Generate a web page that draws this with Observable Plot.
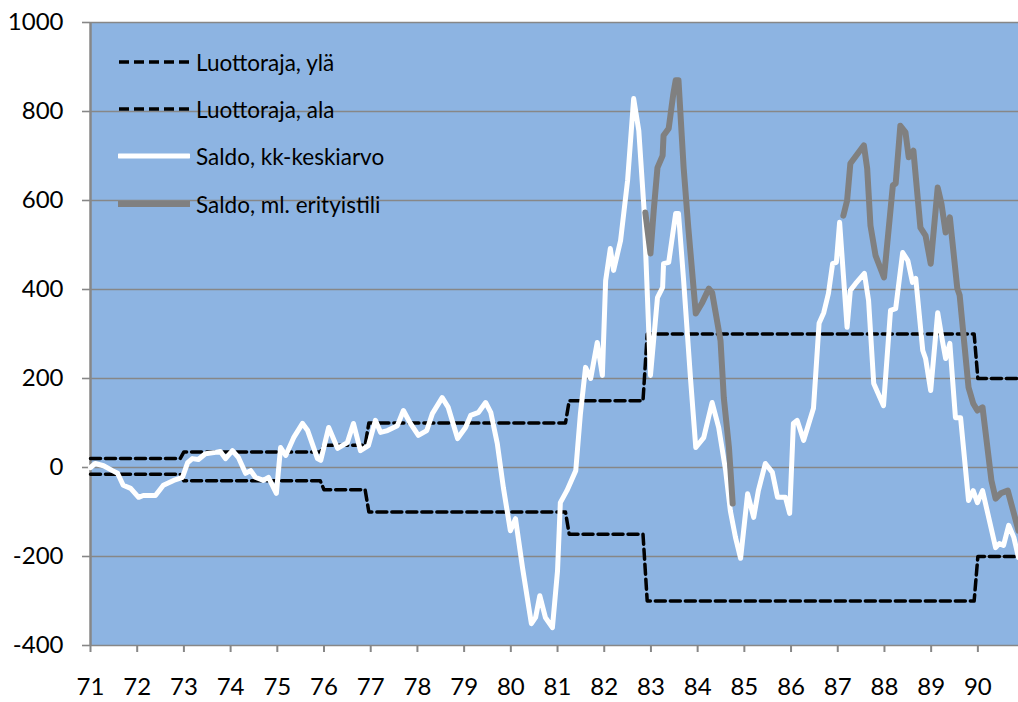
<!DOCTYPE html>
<html>
<head>
<meta charset="utf-8">
<script src="https://cdn.jsdelivr.net/npm/d3@7"></script>
<script src="https://cdn.jsdelivr.net/npm/@observablehq/plot@0.6"></script>
<style>
  html, body { margin: 0; padding: 0; background: #fff; }
  #wrap { position: relative; width: 1018px; height: 702px; font-family: Lato, "Open Sans", sans-serif; }
  #legend { position: absolute; left: 0; top: 0; }
  .row { position: absolute; left: 118px; height: 26px; display: flex; align-items: center; }
  .row svg { display: block; }
  .row span { font-size: 22.5px; color: #000; margin-left: 6px; white-space: nowrap; }
</style>
</head>
<body>
<div id="wrap"><div id="legend"></div></div>
<script>
// Years on the x axis (19xx)
const yearTicks = [71,72,73,74,75,76,77,78,79,80,81,82,83,84,85,86,87,88,89,90];
const valueTicks = [-400,-200,0,200,400,600,800,1000];

const seriesNames = ["Luottoraja, ylä", "Luottoraja, ala", "Saldo, kk-keskiarvo", "Saldo, ml. erityistili"];

// Credit limits (step series)
const limitT = [71.0, 72.92, 73.0, 75.92, 76.0, 76.88, 76.96, 81.17, 81.25, 82.83, 82.92, 89.92, 90.0, 90.87];
const upperV = [20, 20, 35, 35, 50, 50, 100, 100, 150, 150, 300, 300, 200, 200];
const lowerV = [-15, -15, -30, -30, -50, -50, -100, -100, -150, -150, -300, -300, -200, -200];

// Saldo, kk-keskiarvo
const saldoT = [71.0,71.1,71.28,71.47,71.58,71.7,71.86,72.03,72.13,72.39,72.56,72.78,72.97,73.08,73.18,73.31,73.46,73.68,73.78,73.89,
  74.04,74.17,74.32,74.43,74.53,74.70,74.81,74.98,75.07,75.18,75.35,75.54,75.65,75.86,75.93,76.1,76.29,76.5,76.63,76.78,
  76.95,77.1,77.21,77.36,77.57,77.7,77.85,78.02,78.2,78.32,78.53,78.66,78.86,79.03,79.14,79.31,79.46,79.57,79.71,79.84,
  79.99,80.1,80.25,80.44,80.53,80.62,80.74,80.89,81.0,81.06,81.2,81.39,81.49,81.6,81.71,81.85,81.96,82.03,82.13,82.2,
  82.35,82.5,82.63,82.74,82.85,82.99,83.14,83.25,83.27,83.38,83.53,83.59,83.7,83.85,83.96,84.13,84.31,84.45,84.6,84.7,
  84.81,84.92,85.07,85.2,85.3,85.45,85.6,85.71,85.88,85.97,86.05,86.13,86.27,86.48,86.6,86.7,86.8,86.89,86.97,87.04,
  87.2,87.27,87.38,87.57,87.66,87.77,87.98,88.13,88.24,88.39,88.5,88.6,88.67,88.82,88.88,88.99,89.14,89.24,89.31,89.4,
  89.52,89.63,89.8,89.9,89.99,90.1,90.38,90.46,90.55,90.66,90.77,90.87];
const saldoV = [0,9,4,-7,-13,-40,-47,-67,-63,-63,-40,-29,-22,11,20,18,31,34,36,20,
  38,22,-13,-7,-22,-29,-22,-58,45,27,67,99,83,20,16,90,43,56,99,38,
  49,106,79,83,94,128,99,72,83,121,157,135,65,90,117,124,146,124,54,-45,
  -142,-115,-225,-351,-337,-288,-337,-360,-232,-79,-52,-7,121,225,200,281,207,420,492,443,
  510,645,829,757,584,207,382,405,458,461,571,571,420,196,45,67,146,90,-7,-97,
  -157,-204,-59,-112,-52,9,-11,-67,-67,-103,99,106,61,133,324,348,391,458,461,551,
  315,398,413,436,375,189,139,353,357,483,465,416,425,263,245,173,348,285,245,279,
  112,112,-74,-52,-79,-52,-180,-171,-175,-130,-157,-202];

// Saldo, ml. erityistili (null = gap)
const erityT = [82.88,82.99,83.06,83.14,83.25,83.27,83.38,83.48,83.53,83.59,83.7,83.8,83.96,84.1,84.24,84.31,84.49,84.56,84.67,84.75,
  85.9,
  87.12,87.2,87.27,87.56,87.63,87.7,87.81,87.99,88.18,88.24,88.34,88.45,88.52,88.62,88.77,88.88,88.99,89.14,89.22,89.31,
  89.4,89.56,89.61,89.8,89.9,89.99,90.1,90.29,90.38,90.49,90.64,90.77,90.87];
const erityV = [573,481,578,674,701,746,762,840,870,870,674,539,346,371,402,393,285,157,45,-81,
  null,
  566,600,683,724,672,544,476,427,634,638,768,753,697,712,539,521,458,629,593,528,
  562,402,387,180,144,128,135,-29,-70,-58,-52,-103,-142];

const upper = limitT.map((t, i) => ({t, v: upperV[i]}));
const lower = limitT.map((t, i) => ({t, v: lowerV[i]}));
const saldo = saldoT.map((t, i) => ({t, v: saldoV[i]}));
const erity = erityT.map((t, i) => ({t, v: erityV[i]}));

const gridC = "#878787";
const blue = "#8DB4E2";

const chart = Plot.plot({
  width: 1018,
  height: 702,
  marginLeft: 90,
  marginRight: 0,
  marginTop: 22,
  marginBottom: 57,
  style: {fontFamily: "Lato, 'Open Sans', sans-serif", fontSize: "24px", color: "#000", background: "transparent", overflow: "visible"},
  x: {domain: [71, 90.87]},
  y: {domain: [-400, 1000]},
  marks: [
    Plot.frame({fill: blue, stroke: null}),
    Plot.ruleY(valueTicks, {stroke: gridC, strokeWidth: 1.6}),
    Plot.ruleX([71], {stroke: gridC, strokeWidth: 2.5}),
    Plot.axisY({ticks: valueTicks, tickFormat: d => String(d), tickSize: 8, tickPadding: 19, stroke: gridC, strokeWidth: 1.6, label: null, fontSize: 24}),
    Plot.axisX({ticks: yearTicks, tickFormat: d => String(d), tickSize: 7, tickPadding: 25, stroke: gridC, strokeWidth: 2, label: null, fontSize: 24}),
    Plot.line(upper, {x: "t", y: "v", stroke: "#000", strokeWidth: 3.5, strokeDasharray: "10,5"}),
    Plot.line(lower, {x: "t", y: "v", stroke: "#000", strokeWidth: 3.5, strokeDasharray: "10,5"}),
    Plot.line(saldo, {x: "t", y: "v", stroke: "#fff", strokeWidth: 5, strokeLinejoin: "round", strokeLinecap: "round"}),
    Plot.line(erity, {x: "t", y: "v", stroke: "#808080", strokeWidth: 6, strokeLinejoin: "round", strokeLinecap: "round"})
  ]
});
document.getElementById("wrap").prepend(chart);

// Legend
const legendRows = [
  {name: seriesNames[0], stroke: "#000", w: 3.5, dash: "10,5", y: 62},
  {name: seriesNames[1], stroke: "#000", w: 3.5, dash: "10,5", y: 109},
  {name: seriesNames[2], stroke: "#fff", w: 5, dash: null, y: 156},
  {name: seriesNames[3], stroke: "#808080", w: 6, dash: null, y: 204}
];
const leg = document.getElementById("legend");
for (const r of legendRows) {
  const row = document.createElement("div");
  row.className = "row";
  row.style.top = (r.y - 13) + "px";
  row.innerHTML = `<svg width="72" height="26"><line x1="1" x2="71" y1="13" y2="13" stroke="${r.stroke}" stroke-width="${r.w}" ${r.dash ? `stroke-dasharray="${r.dash}"` : `stroke-linecap="round"`}/></svg><span>${r.name}</span>`;
  leg.appendChild(row);
}
</script>
</body>
</html>
